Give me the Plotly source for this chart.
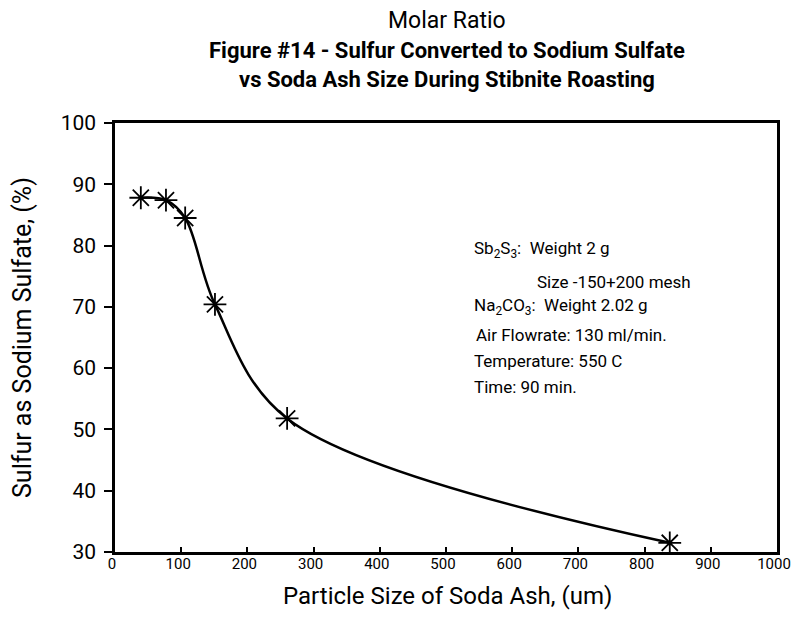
import plotly.graph_objects as go

# Data
particle_size_um = [39, 77, 106, 151, 260, 838]
sulfur_pct = [87.8, 87.4, 84.5, 70.4, 51.8, 31.5]

x_ticks = [0, 100, 200, 300, 400, 500, 600, 700, 800, 900, 1000]
y_ticks = [30, 40, 50, 60, 70, 80, 90, 100]

title_lines = [
    "Molar Ratio",
    "<b>Figure #14 - Sulfur Converted to Sodium Sulfate</b>",
    "<b>vs Soda Ash Size During Stibnite Roasting</b>",
]
note_lines = [
    "Sb<sub>2</sub>S<sub>3</sub>:  Weight 2 g",
    "Size -150+200 mesh",
    "Na<sub>2</sub>CO<sub>3</sub>:  Weight 2.02 g",
    "Air Flowrate: 130 ml/min.",
    "Temperature: 550 C",
    "Time: 90 min.",
]
note_x = [539, 634, 539, 543, 539, 539]
note_y = [79.3, 74.1, 70.0, 65.4, 61.2, 56.9]
x_title = "Particle Size of Soda Ash, (um)"
y_title = "Sulfur as Sodium Sulfate, (%)"

FONT = "Roboto, Liberation Sans, sans-serif"

# layout geometry (figure coords; page body adds 8px margin on every side)
OFF = 8
W, H = 800 - 2 * OFF, 618 - 2 * OFF
L, T = 115 - OFF, 123 - OFF
R = W - (777 - OFF)
B = H - (552 - OFF)
PW, PH = W - L - R, H - T - B


def py(screen_y):
    return (H - B - (screen_y - OFF)) / PH


def px(screen_x):
    return ((screen_x - OFF) - L) / PW


fig = go.Figure()
fig.add_trace(go.Scatter(
    x=particle_size_um, y=sulfur_pct,
    mode="lines+markers",
    line=dict(color="black", width=2.5, shape="spline", smoothing=1.0),
    marker=dict(symbol="asterisk-open", size=19, color="black",
                line=dict(color="black", width=1.8)),
    showlegend=False,
))

title_y = [20, 51, 80]
title_sizes = [23, 22, 22]
for txt, ty, fs in zip(title_lines, title_y, title_sizes):
    fig.add_annotation(
        text=txt, xref="paper", x=px(447), yref="paper", y=py(ty),
        xanchor="center", yanchor="middle", showarrow=False,
        font=dict(family=FONT, size=fs, color="black"),
    )

for txt, nx, ny in zip(note_lines, note_x, note_y):
    fig.add_annotation(
        text=txt, x=nx, y=ny, xref="x", yref="y",
        xanchor="left", yanchor="middle", showarrow=False,
        font=dict(family=FONT, size=17, color="black"),
    )

fig.add_annotation(
    text=x_title, xref="paper", x=px(447), yref="paper", y=py(596),
    xanchor="center", yanchor="middle", showarrow=False,
    font=dict(family=FONT, size=24, color="black"),
)
fig.add_annotation(
    text=y_title, xref="paper", x=px(22), yref="paper", y=py(338),
    xanchor="center", yanchor="middle", showarrow=False, textangle=-90,
    font=dict(family=FONT, size=25, color="black"),
)

fig.update_layout(
    width=W, height=H,
    margin=dict(l=L, r=R, t=T, b=B, autoexpand=False),
    paper_bgcolor="white", plot_bgcolor="white",
    font=dict(family=FONT, color="black"),
)
fig.update_xaxes(
    range=[0, 1000], tickvals=x_ticks, ticktext=[str(v) for v in x_ticks],
    showgrid=False, zeroline=False,
    showline=True, linecolor="black", linewidth=2.5, mirror=True,
    ticks="inside", ticklen=5, tickwidth=1.5, tickcolor="black",
    ticklabelstandoff=-4, ticklabelshift=-3, ticklabeloverflow="allow",
    tickfont=dict(family=FONT, size=15, color="black"),
)
fig.update_yaxes(
    range=[30, 100], tickvals=y_ticks, ticktext=[str(v) for v in y_ticks],
    showgrid=False, zeroline=False,
    showline=True, linecolor="black", linewidth=2.5, mirror=True,
    ticks="outside", ticklen=8, tickwidth=1.5, tickcolor="black",
    ticklabelstandoff=4,
    tickfont=dict(family=FONT, size=21, color="black"),
)

fig.write_html("out.html")
